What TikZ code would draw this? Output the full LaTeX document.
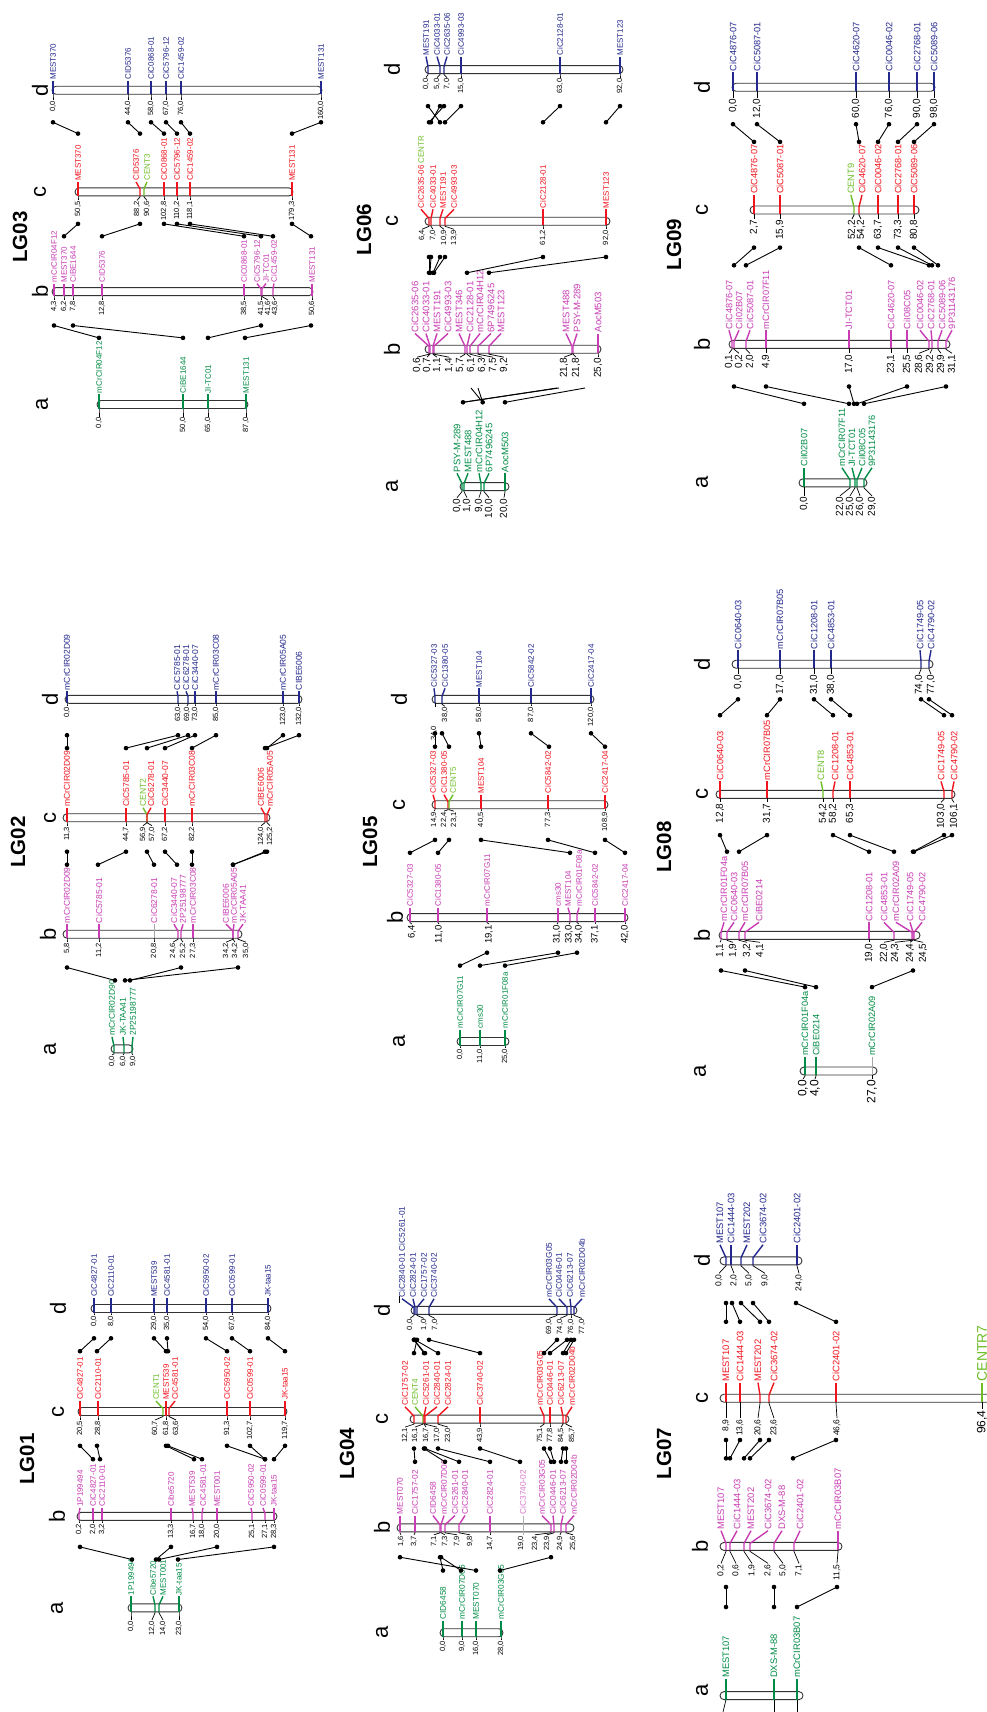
\documentclass[tikz,border=0pt]{standalone}
\usepackage{fontspec}
\setmainfont{Liberation Sans}
\definecolor{cb}{RGB}{35,40,140}
\definecolor{cr}{RGB}{240,20,30}
\definecolor{cm}{RGB}{200,60,180}
\definecolor{cg}{RGB}{0,140,70}
\definecolor{cl}{RGB}{110,190,40}
\def\lfs{8}\def\pfs{7.5}
\newcommand\Chr[6]{\def\Ybar{#1}\def\Ccol{#4}\def\Lgap{#5}\def\Pgap{#6}%
  \draw[barst] (#2,#1-4) rectangle (#3,#1+4);}
\newcommand\Mk[4][\Ccol]{\draw[tk,color=#1] (#2,\Ybar+4) -- (#2,\Ybar-3) -- (#3,\Ybar-\Lgap+1);%
  \node[ml,text=#1] at (#3,\Ybar-\Lgap) {#4};}
\newcommand\Ps[3]{\draw[ptk] (#1,\Ybar+4) -- (#1,\Ybar+5) -- (#2,\Ybar+\Pgap-1);%
  \node[pl] at (#2,\Ybar+\Pgap) {#3};}
\newcommand\MP[6][\Ccol]{\Mk[#1]{#2}{#3}{#4}\Ps{#2}{#5}{#6}}
\newcommand\Cn[4]{\coordinate (ca) at (#1,#2);\coordinate (cz) at (#3,#4);%
  \draw[cnl] (ca) -- (cz);\fill (ca) circle (2.3pt);\fill (cz) circle (2.3pt);}
\newcommand\Cns[3]{\foreach \xa/\xb in {#3}{\Cn{\xa}{#1}{\xb}{#2}}}
\tikzset{
  barst/.style={rounded corners=4pt,draw=black!80,fill=white,line width=0.9pt},
  tk/.style={line width=1.4pt},
  ptk/.style={line width=0.7pt,black},
  cnl/.style={line width=0.9pt,black},
  ml/.style={rotate=90,anchor=west,inner sep=0pt,font={\fontsize{\lfs}{\lfs}\selectfont}},
  pl/.style={rotate=90,anchor=east,inner sep=0pt,text=black,font={\fontsize{\pfs}{\pfs}\selectfont}},
  ttl/.style={rotate=90,inner sep=0pt,font={\bfseries\fontsize{20.5}{20.5}\selectfont}},
  lett/.style={rotate=90,inner sep=0pt,font={\fontsize{22}{22}\selectfont}}
}
\begin{document}
\begin{tikzpicture}[x=1pt,y=-1pt]
\useasboundingbox (0,0) rectangle (987,1712);
\clip (0,0) rectangle (987,1712);
\fill[white] (0,0) rectangle (987,1712);

%================ LG03
\def\lfs{8}\def\pfs{7.5}
\node[ttl] (T3) at (20,237) {LG03};
\node[lett] (L3d) at (40,90.3) {d};
\node[lett] (L3c) at (40,191.9) {c};
\node[lett] (L3b) at (40,291.6) {b};
\node[lett] (L3a) at (42,404.5) {a};
\Chr{90.3}{52}{322}{cb}{10.5}{10.5}
\MP{53}{53}{MEST370}{53}{0,0}
\MP{128}{128}{CID5376}{128}{44,0}
\MP{151}{151}{CiC0868-01}{151}{58,0}
\MP{166}{166}{CiC5796-12}{166}{67,0}
\MP{181}{181}{CiC1459-02}{181}{76,0}
\MP{321}{321}{MEST131}{321}{160,0}
\Chr{191.9}{75}{293}{cr}{11}{9.5}
\MP{78}{78}{MEST370}{78}{50,5}
\MP{140}{136}{CID5376}{137}{88,2}
\MP[cl]{144}{147}{CENT3}{147}{90,6}
\MP{164}{164}{CiC0868-01}{164}{102,8}
\MP{177}{177}{CiC5796-12}{177}{110,2}
\MP{190}{190}{CiC1459-02}{190}{118,1}
\MP{292}{292}{MEST131}{292}{179,3}
\Chr{291.6}{52}{313}{cm}{9}{9.4}
\MP{54}{54}{mCrCIR04F12}{54}{4,3}
\MP{64}{64}{MEST370}{64}{6,2}
\MP{73}{73}{CiBE1644}{73}{7,8}
\MP{102}{102}{CID5376}{102}{12,8}
\MP{244}{244}{CiC0868-01}{244}{38,5}
\MP{261}{257}{CiC5796-12}{261}{41,5}
\MP{262}{266}{JI-TC01}{268}{41,6}
\MP{273}{274}{CiC1459-02}{275}{43,6}
\MP{312}{312}{MEST131}{312}{50,6}
\Chr{404.5}{97}{248}{cg}{11.3}{13}
\MP{99}{99}{mCrCIR04F12}{99}{0,0}
\MP{183}{183}{CiBE1644}{183}{50,0}
\MP{208}{208}{JI-TC01}{208}{65,0}
\MP{246}{246}{MEST131}{246}{87,0}
\Cns{122.3}{133.6}{53/78,128/140,151/164,166/177,181/190,321/292}
\Cns{223.9}{236.3}{78/64,140/102,164/244,177/261,190/273,292/311}
\Cns{325.5}{337.9}{54/99,73/183,261/208,311/245}

%================ LG02
\def\lfs{8.5}\def\pfs{7.5}
\node[ttl] (T2) at (18,842) {LG02};
\node[lett] (L2d) at (50,699.3) {d};
\node[lett] (L2c) at (50,817.7) {c};
\node[lett] (L2b) at (48,934.2) {b};
\node[lett] (L2a) at (50,1048.9) {a};
\Chr{699.3}{65}{302}{cb}{9}{7.5}
\MP{67}{67}{mCrCIR02D09}{67}{0,0}
\MP{178}{177}{CiC5785-01}{178}{63,0}
\MP{188}{186}{CiC6278-01}{187}{69,0}
\MP{195}{195}{CiC3440-07}{195}{73,0}
\MP{216}{216}{mCrCIR03C08}{216}{85,0}
\MP{283}{283}{mCrCIR05A05}{283}{123,0}
\MP{299}{299}{CIBE6006}{299}{132,0}
\Chr{817.7}{63}{270}{cr}{11}{9}
\MP{67}{67}{mCrCIR02D09}{67}{11,3}
\MP{126}{126}{CiC5785-01}{126}{44,7}
\MP[cl]{147}{143}{CENT2}{143}{56,9}
\MP{147}{151}{CiC6278-01}{152}{57,0}
\MP{165}{165}{CiC3440-07}{165}{67,2}
\MP{192}{192}{mCrCIR03C08}{192}{82,2}
\MP{265}{261}{CIBE6006}{261}{124,0}
\MP{267}{270}{mCrCIR05A05}{270}{125,2}
\Chr{934.2}{63}{242}{cm}{11}{9}
\MP{67}{67}{mCrCIR02D09}{67}{5,8}
\MP{99}{99}{CiC5785-01}{99}{11,2}
\draw[gray!70,line width=0.5pt] (154,\Ybar+4) -- (154,\Ybar-\Lgap+1);
\node[ml,text=cm] at (154,\Ybar-\Lgap) {CiC6278-01};
\Ps{154}{154}{20,8}
\MP{178}{174}{CiC3440-07}{173}{24,6}
\MP{181}{183}{2P25198777}{183}{25,2}
\MP{193}{193}{mCrCIR03C08}{193}{27,3}
\MP{233}{226}{CIBE6006}{226}{34,2}
\MP{233}{234}{mCrCIR05A05}{235}{34,2}
\MP{238}{243}{JK-TAA41}{246}{35,0}
\Chr{1048.9}{111}{133}{cg}{13}{7}
\MP{114}{112}{mCrCIR02D90}{112}{0,0}
\MP{124}{123}{JK-TAA41}{123}{6,0}
\MP{132}{133}{2P25198777}{133}{9,0}
\Cns{735.2}{748.1}{67/67,178/126,188/147,195/165,216/192,283/267,299/265}
\Cns{851.7}{864.7}{67/67,126/98,147/154,165/177,192/192,265/233,267/233}
\Cns{967.5}{980.4}{67/115,181/130,238/125}

%================ LG01
\def\lfs{8}\def\pfs{7.5}
\node[ttl] (T1) at (27,1459) {LG01};
\node[lett] (L1d) at (58,1308.5) {d};
\node[lett] (L1c) at (58,1411.5) {c};
\node[lett] (L1b) at (57,1516.4) {b};
\node[lett] (L1a) at (57,1607.9) {a};
\Chr{1308.5}{91}{271}{cb}{11.5}{7.6}
\MP{94}{94}{CiC4827-01}{94}{0,0}
\MP{111}{111}{CiC2110-01}{111}{8,0}
\MP{154}{154}{MEST539}{154}{29,0}
\MP{167}{167}{CiC4581-01}{167}{35,0}
\MP{206}{206}{CiC5950-02}{206}{54,0}
\MP{232}{232}{CiC0599-01}{232}{67,0}
\MP{268}{268}{JK-taa15}{268}{84,0}
\Chr{1411.5}{78}{287}{cr}{11.5}{9.5}
\MP{80}{80}{CiC4827-01}{80}{20,5}
\MP{98}{98}{CiC2110-01}{98}{28,8}
\MP[cl]{163}{156}{CENT1}{155}{60,7}
\MP{166}{166}{MEST539}{166}{61,8}
\MP{169}{175}{CiC4581-01}{176}{63,6}
\MP{227}{227}{CiC5950-02}{227}{91,3}
\MP{250}{250}{CiC0599-01}{250}{102,7}
\MP{285}{285}{JK-taa15}{285}{119,7}
\Chr{1516.4}{77}{277}{cm}{9.5}{7.6}
\MP{79}{80}{1P199494}{79}{0,2}
\MP{93}{93}{CiC4827-01}{93}{2,0}
\MP{102}{102}{CiC2110-01}{102}{3,2}
\MP{171}{171}{Cibe5720}{171}{13,3}
\MP{193}{192}{MEST539}{193}{16,7}
\MP{202}{203}{CiC4581-01}{202}{18,0}
\MP{217}{217}{MEST001}{217}{20,0}
\MP{252}{251}{CiC5950-02}{252}{25,1}
\MP{265}{263}{CiC0599-01}{265}{27,1}
\MP{274}{274}{JK-taa15}{274}{28,3}
\Chr{1607.9}{128}{182}{cg}{12.6}{13}
\MP{131}{131}{1P199494}{131}{0,0}
\MP{155}{153}{Cibe5720}{152}{12,0}
\MP{159}{163}{MEST001}{163}{14,0}
\MP{179}{179}{JK-taa15}{179}{23,0}
\Cns{1338.3}{1351.2}{94/80,111/97,154/166,167/168,206/227,232/250,268/285}
\Cns{1445.8}{1459.2}{80/93,97/100,166/194,168/202,227/265,250/265,285/274}
\Cns{1546.9}{1559.5}{80/132,171/156,217/159,274/178}

%================ LG06
\def\lfs{8}\def\pfs{7.5}
\node[ttl] (T6) at (364,229.5) {LG06};
\node[lett] (L6d) at (392,69.6) {d};
\node[lett] (L6c) at (392,221.3) {c};
\node[lett] (L6b) at (392,349.2) {b};
\node[lett] (L6a) at (392,486.6) {a};
\Chr{69.6}{425}{623}{cb}{14}{9}
\MP{428}{426}{MEST191}{426}{0,0}
\MP{440}{437}{CiC4033-01}{437}{5,0}
\MP{444}{447}{CiC2635-06}{447}{7,0}
\MP{461}{461}{CiC4993-03}{461}{15,0}
\MP{560}{560}{CiC2128-01}{560}{63,0}
\MP{620}{620}{MEST123}{620}{92,0}
\Chr{221.3}{425}{610}{cr}{13}{9}
\Mk{429}{421}{\textcolor{cr}{CiC2635-06} \textcolor{cl}{CENTR}}
\Ps{429}{422}{6,4}
\MP{431}{433}{CiC4033-01}{433}{7,0}
\MP{440}{443}{MEST191}{444}{10,9}
\MP{445}{454}{CiC4993-03}{454}{13,9}
\MP{543}{543}{CiC2128-01}{543}{61,2}
\MP{606}{606}{MEST123}{606}{92,0}
\def\lfs{9.5}\def\pfs{10}
\Chr{349.2}{425}{601}{cm}{16.7}{9}
\MP{429}{415}{CiC2635-06}{417}{0,6}
\MP{430}{426}{CiC4033-01}{427}{0,7}
\MP{433}{437}{MEST191}{437}{1,1}
\MP{434}{448}{CiC4993-03}{449}{1,4}
\MP{465}{459}{MEST346}{460}{5,7}
\MP{467}{470}{CiC2128-01}{471}{6,1}
\MP{470}{480}{mCrCIR04H12}{482}{6,3}
\MP{478}{491}{6P7496245}{493}{7,5}
\MP{489}{501}{MEST123}{504}{9,2}
\MP{572}{566}{MEST488}{564}{21,8}
\MP{573}{577}{PSY-M-289}{576}{21,8}
\MP{598}{598}{AocM503}{598}{25,0}
\Chr{486.6}{460}{509}{cg}{14.3}{12}
\MP{462}{457}{PSY-M-289}{457}{0,0}
\MP{464}{468}{MEST488}{467}{1,0}
\MP{481}{479}{mCrCIR04H12}{479}{9,0}
\MP{484}{489}{6P7496245}{489}{10,0}
\MP{505}{505}{AocM503}{504}{20,0}
\Cns{106.1}{122.3}{428/440,440/431,444/429,461/445,560/543,620/606}
\Cns{257}{272.8}{429/429,431/430,440/433,445/434,543/467,606/489}
\coordinate (s1) at (557,388); \coordinate (s2) at (559,388);
\coordinate (s3) at (471,388); \coordinate (s4) at (478,388);
\coordinate (s5) at (585,388);
\coordinate (e1) at (463,402.3); \coordinate (e2) at (482.7,402.3); \coordinate (e3) at (505,402.3);
\draw[cnl] (s1) -- (e1); \draw[cnl] (s2) -- (e1);
\draw[cnl] (s3) -- (e2); \draw[cnl] (s4) -- (e2);
\draw[cnl] (s5) -- (e3);
\fill (e1) circle (2.3pt); \fill (e2) circle (2.3pt); \fill (e3) circle (2.3pt);

%================ LG05
\def\lfs{8}\def\pfs{7.5}
\node[ttl] (T5) at (370,842) {LG05};
\node[lett] (L5d) at (399,699.3) {d};
\node[lett] (L5c) at (399,804.7) {c};
\node[lett] (L5b) at (395,917.6) {b};
\node[lett] (L5a) at (399,1041.5) {a};
\Chr{699.3}{432}{594}{cb}{12}{8}
\Mk{435}{434}{CiC5327-03}
\draw[ptk] (435,\Ybar+4) -- (435,\Ybar+8);
\node[pl] at (434,726) {34,0};
\MP{442}{445}{CiC1380-05}{445}{38,0}
\MP{479}{479}{MEST104}{479}{58,0}
\MP{531}{531}{CiC5842-02}{531}{87,0}
\MP{591}{591}{CiC2417-04}{591}{120,0}
\Chr{804.7}{432}{608}{cr}{11}{7.5}
\MP{435}{433}{CiC5327-03}{434}{14,9}
\MP{448}{444}{CiC1380-05}{444}{22,4}
\MP[cl]{449}{453}{CENT5}{454}{23,1}
\MP{481}{481}{MEST104}{481}{40,5}
\MP{548}{548}{CiC5842-02}{548}{77,3}
\MP{605}{605}{CiC2417-04}{605}{108,9}
\def\pfs{9.5}
\Chr{917.6}{407}{628}{cm}{11}{7.5}
\MP{410}{410}{CiC5327-03}{412}{6,4}
\MP{438}{438}{CiC1380-05}{439}{11,0}
\MP{487}{487}{mCrCIR07G11}{489}{19,1}
\MP{558}{558}{cms30}{557}{31,0}
\MP{570}{568}{MEST104}{569}{33,0}
\MP{577}{579}{mCrCIR01F08a}{579}{34,0}
\MP{595}{595}{CiC5842-02}{595}{37,1}
\MP{625}{625}{CiC2417-04}{625}{42,0}
\def\pfs{7.5}
\Chr{1041.5}{457}{509}{cg}{13}{7.5}
\MP{460}{460}{mCrCIR07G11}{460}{0,0}
\MP{480}{480}{cms30}{480}{11,0}
\MP{505}{505}{mCrCIR01F08a}{505}{25,0}
\Cns{733.3}{746.7}{435/435,442/449,479/481,531/549,591/605}
\Cns{839.9}{852.8}{435/410,449/438,481/570,548/595,605/625}
\Cns{952.7}{965.6}{487/460,558/480,577/505}

%================ LG04
\def\lfs{8.3}\def\pfs{7.5}
\node[ttl] (T4) at (347,1453.4) {LG04};
\node[lett] (L4d) at (382,1310.4) {d};
\node[lett] (L4c) at (382,1419.1) {c};
\node[lett] (L4b) at (382,1527.8) {b};
\node[lett] (L4a) at (382,1632.7) {a};
\Chr{1310.4}{411}{577}{cb}{12.6}{9}
\Mk{414}{402}{CiC2840-01 CiC5261-01}
\draw[ptk] (399,1296) -- (399,1303);
\Mk{415}{413}{CiC2824-01}
\Ps{414}{410}{0,0}
\MP{417}{424}{CiC1757-02}{424}{1,0}
\MP{429}{434}{CiC3740-02}{435}{7,0}
\MP{557}{549}{mCrCIR03G05}{549}{69,0}
\MP{567}{559}{CiC0446-01}{560}{74,0}
\MP{571}{570}{CiC6213-07}{571}{76,0}
\MP{574}{582}{mCrCIR02D04b}{582}{77,0}
\Chr{1419.1}{410}{569}{cr}{13.3}{9}
\MP{414}{405}{CiC1757-02}{405}{12,1}
\MP[cl]{423}{415}{CENT4}{415}{16,1}
\MP{424}{426}{CiC5261-01}{426}{16,7}
\MP{425}{437}{CiC2840-01}{437}{17,0}
\MP{438}{448}{CiC2824-01}{448}{23,0}
\MP{480}{480}{CiC3740-02}{480}{43,9}
\MP{544}{540}{mCrCIR03G05}{540}{75,1}
\MP{550}{550}{CiC0446-01}{550}{77,8}
\MP{563}{561}{CiC6213-07}{561}{84,5}
\MP{566}{572}{mCrCIR02D04b}{572}{85,7}
\Chr{1527.8}{397}{574}{cm}{13.3}{8}
\MP{400}{400}{MEST070}{401}{1,6}
\MP{415}{415}{CiC1757-02}{414}{3,7}
\MP{440}{433}{CID6458}{434}{7,1}
\MP{441}{444}{mCrCIR07D06}{445}{7,3}
\MP{445}{455}{CiC5261-01}{457}{7,9}
\MP{459}{465}{CiC2840-01}{470}{9,8}
\MP{490}{490}{CiC2824-01}{490}{14,7}
\draw[gray!60,line width=0.5pt] (523,\Ybar-\Lgap+1) -- (523,\Ybar+\Pgap-1);
\node[ml,text=cm!70] at (523,\Ybar-\Lgap) {CiC3740-02};
\node[pl] at (521,\Ybar+\Pgap) {19,0};
\MP{551}{542}{mCrCIR03G05}{535}{23,4}
\MP{554}{553}{CiC0446-01}{547}{23,9}
\MP{561}{563}{CiC6213-07}{560}{24,9}
\MP{566}{574}{mCrCIR02D04b}{573}{25,6}
\Chr{1632.7}{440}{503}{cg}{13}{8}
\MP{443}{443}{CID6458}{443}{0,0}
\MP{462}{462}{mCrCIR07D06}{462}{9,0}
\MP{476}{476}{MEST070}{476}{16,0}
\MP{501}{501}{mCrCIR03G05}{501}{28,0}
\Cns{1339.8}{1353.1}{417/414,414/424,414/425,415/438,429/480,557/544,567/550,571/563,574/566}
\Cns{1448.5}{1461.8}{414/415,424/445,425/459,438/490,480/520,544/551,550/554,563/561,566/566}
\Cns{1557.2}{1570.5}{400/476,440/443,441/461,551/500}

%================ LG09
\def\lfs{9.2}\def\pfs{10}
\node[ttl] (T9) at (674,244.6) {LG09};
\node[lett] (L9d) at (702,87.3) {d};
\node[lett] (L9c) at (702,210) {c};
\node[lett] (L9b) at (702,344.3) {b};
\node[lett] (L9a) at (702,482.8) {a};
\Chr{87.3}{732}{935}{cb}{15.8}{11.3}
\MP{733}{733}{CiC4876-07}{733}{0,0}
\MP{757}{757}{CiC5087-01}{757}{12,0}
\MP{856}{856}{CiC4620-07}{856}{60,0}
\MP{889}{889}{CiC0046-02}{889}{76,0}
\MP{917}{917}{CiC2768-01}{917}{90,0}
\MP{934}{934}{CiC5089-06}{934}{98,0}
\Chr{210}{750}{919}{cr}{16}{10}
\MP{754}{754}{CiC4876-07}{754}{2,7}
\MP{780}{780}{CiC5087-01}{780}{15,9}
\MP[cl]{854}{851}{CENT9}{852}{52,2}
\MP{859}{862}{CiC4620-07}{861}{54,2}
\MP{878}{878}{CiC0046-02}{878}{63,7}
\MP{898}{898}{CiC2768-01}{898}{73,3}
\MP{914}{914}{CiC5089-06}{914}{80,8}
\Chr{344.3}{729}{950}{cm}{15}{10}
\MP{732}{729}{CiC4876-07}{729}{0,1}
\MP{734}{739}{CiI02B07}{739}{0,2}
\MP{746}{750}{CiC5087-01}{750}{2,0}
\MP{766}{766}{mCrCIR07F11}{766}{4,9}
\MP{849}{849}{JI-TCT01}{849}{17,0}
\MP{891}{891}{CiC4620-07}{891}{23,1}
\MP{907}{907}{CiI08C05}{907}{25,5}
\MP{929}{920}{CiC0046-02}{919}{28,6}
\MP{932}{931}{CiC2768-01}{930}{29,2}
\MP{938}{942}{CiC5089-06}{941}{29,9}
\MP{946}{952}{9P31143176}{952}{31,1}
\Chr{482.8}{799}{867}{cg}{16}{14}
\MP{804}{804}{CiI02B07}{804}{0,0}
\MP{850}{842}{mCrCIR07F11}{840}{22,0}
\MP{855}{852}{JI-TCT01}{850}{25,0}
\MP{857}{862}{CiI08C05}{860}{26,0}
\MP{864}{872}{9P31143176}{872}{29,0}
\Cns{124.2}{141.9}{733/754,757/780,856/859,889/878,917/898,934/914}
\Cns{247.6}{265.3}{754/734,780/746,859/891,878/929,898/932,914/938}
\Cns{386.5}{403.8}{734/804,766/849,849/854,907/857,946/864}

%================ LG08
\def\lfs{9.2}\def\pfs{10}
\node[ttl] (T8) at (664,847) {LG08};
\node[lett] (L8d) at (702,664.2) {d};
\node[lett] (L8c) at (702,794.4) {c};
\node[lett] (L8b) at (702,935.3) {b};
\node[lett] (L8a) at (700,1071) {a};
\Chr{664.2}{732}{933}{cb}{15}{11}
\MP{738}{738}{CiC0640-03}{738}{0,0}
\MP{780}{780}{mCrCIR07B05}{780}{17,0}
\MP{814}{814}{CiC1208-01}{814}{31,0}
\MP{831}{831}{CiC4853-01}{831}{38,0}
\MP{921}{920}{CiC1749-05}{919}{74,0}
\MP{929}{931}{CiC4790-02}{931}{77,0}
\Chr{794.4}{716}{955}{cr}{14}{9}
\MP{720}{720}{CiC0640-03}{720}{12,8}
\MP{767}{767}{mCrCIR07B05}{767}{31,7}
\MP[cl]{823}{821}{CENT8}{823}{54,2}
\MP{833}{835}{CiC1208-01}{833}{58,2}
\MP{850}{850}{CiC4853-01}{850}{65,3}
\MP{944}{941}{CiC1749-05}{941}{103,0}
\MP{952}{954}{CiC4790-02}{954}{106,1}
\Chr{935.3}{719}{920}{cm}{14}{8}
\MP{721}{724}{mCrCIR01F04a}{720}{1,1}
\MP{727}{734}{CiC0640-03}{733}{1,9}
\MP{739}{745}{mCrCIR07B05}{747}{3,2}
\MP{745}{759}{CiBE0214}{760}{4,1}
\MP{869}{869}{CiC1208-01}{869}{19,0}
\MP{894}{884}{CiC4853-01}{884}{22,0}
\MP{912}{896}{mCrCIR02A09}{895}{24,3}
\MP{913}{910}{CiC1749-05}{910}{24,4}
\MP{914}{922}{CiC4790-02}{923}{24,5}
\def\pfs{12}
\Chr{1071}{800}{877}{cg}{15}{9}
\MP{805}{805}{mCrCIR01F04a}{803}{0,0}
\MP{816}{816}{CiBE0214}{815}{4,0}
\draw[gray!70,line width=0.5pt] (872,\Ybar+4) -- (872,\Ybar-\Lgap+1);
\node[ml,text=cg] at (872,\Ybar-\Lgap) {mCrCIR02A09};
\Ps{872}{872}{27,0}
\Cns{699.3}{715.2}{738/720,780/767,814/833,831/850,921/944,929/952}
\Cns{835.1}{851.7}{720/727,767/739,833/869,850/894,944/913,952/914}
\Cns{970.5}{987.1}{721/805,745/816,913/872}

%================ LG07
\def\lfs{9.4}\def\pfs{8.5}
\node[ttl] (T7) at (664,1453.4) {LG07};
\node[lett] (L7d) at (702,1260.8) {d};
\node[lett] (L7c) at (702,1398.2) {c};
\node[lett] (L7b) at (700,1546.4) {b};
\node[lett] (L7a) at (702,1690) {a};
\Chr{1260.8}{720}{802}{cb}{17}{13.5}
\MP{726}{720}{MEST107}{719}{0,0}
\MP{731}{731}{CiC1444-03}{734}{2,0}
\MP{741}{747}{MEST202}{749}{5,0}
\MP{753}{763}{CiC3674-02}{765}{9,0}
\MP{797}{797}{CiC2401-02}{799}{24,0}
\Chr{1398.2}{720}{992}{cr}{16.6}{21}
\MP{726}{726}{MEST107}{726}{8,9}
\MP{740}{740}{CiC1444-03}{740}{13,6}
\MP{760}{758}{MEST202}{758}{20,6}
\MP{769}{774}{CiC3674-02}{774}{23,6}
\MP{836}{836}{CiC2401-02}{837}{46,6}
\begin{scope}
\def\lfs{14}\def\pfs{12}\def\Pgap{12}
\MP[cl]{982}{982}{CENTR7}{982}{96,4}
\end{scope}
\Chr{1546.4}{720}{842}{cm}{16.7}{18}
\MP{726}{721}{MEST107}{721}{0,2}
\MP{730}{737}{CiC1444-03}{736}{0,6}
\MP{744}{751}{MEST202}{752}{1,9}
\MP{750}{768}{CiC3674-02}{768}{2,6}
\MP{774}{782}{DXS-M-88}{783}{5,0}
\MP{794}{800}{CiC2401-02}{799}{7,1}
\MP{838}{838}{mCrCIR03B07}{837}{11,5}
\Chr{1695.6}{720}{803}{cg}{17.6}{18}
\Mk{726}{726}{MEST107}
\Mk{774}{774}{DXS-M-88}
\Mk{797}{797}{mCrCIR03B07}
\draw[ptk] (726,1699.6) -- (723,1712);
\draw[ptk] (774,1699.6) -- (774,1712);
\draw[ptk] (797,1699.6) -- (797,1712);
\Cns{1303}{1321.8}{726/726,732/740,741/760,753/769,796/836}
\Cns{1440}{1458.3}{726/726,740/730,760/744,769/750,836/793}
\Cns{1587}{1607}{726/726,774/774,837/797}
\end{tikzpicture}
\end{document}
